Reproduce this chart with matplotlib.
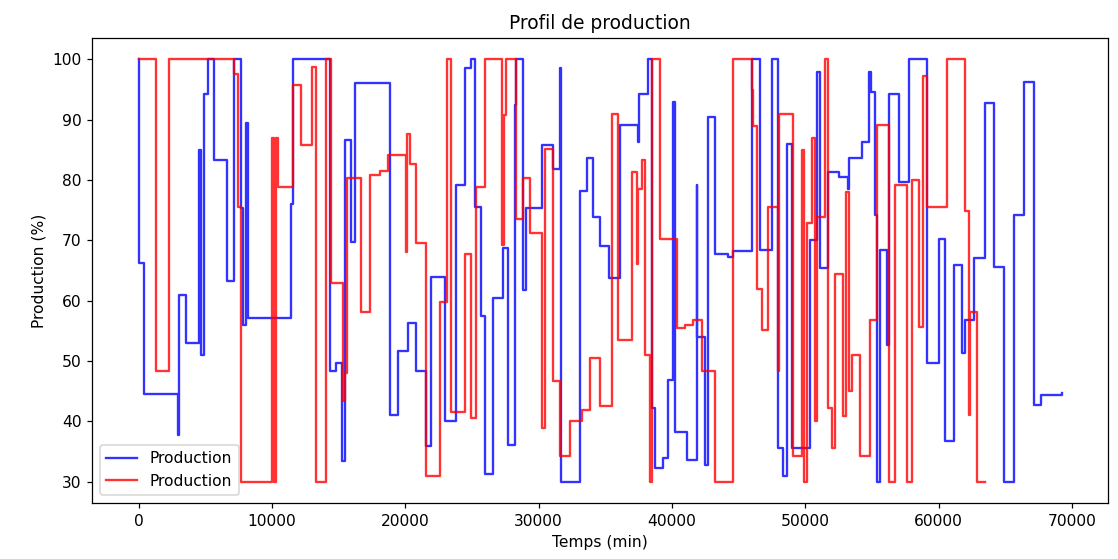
import matplotlib.pyplot as plt

# profil 1 (bleu) : instants de changement (min) et niveau de production (%)
t_prod1 = [0, 30, 375, 2930, 3020, 3560, 4560, 4670, 4930, 5180,
           5690, 6640, 7130, 7690, 7830, 8070, 8200, 11430, 11570, 14320,
           14820, 15250, 15450, 15900, 16200, 18830, 19450, 20200, 20830, 21580,
           21960, 22960, 23840, 24460, 24960, 25210, 25710, 25960, 26590, 27340,
           27710, 28220, 28340, 28840, 29090, 30220, 31090, 31590, 31710, 33100,
           33600, 34100, 34600, 35270, 36100, 37480, 37550, 38230, 38480, 38730,
           39350, 39730, 40100, 40230, 41110, 41860, 41920, 42480, 42730, 43240,
           44240, 44610, 45990, 46610, 47490, 47990, 48360, 48620, 48990, 50370,
           50870, 51120, 51740, 52500, 53200, 53300, 54250, 54750, 54950, 55250,
           55380, 55630, 56130, 56250, 57000, 57760, 59140, 60010, 60510, 61130,
           61760, 61960, 62630, 63510, 64140, 64890, 65640, 66390, 67140, 67650,
           69270]
prod1 = [100, 66.2, 44.6, 37.8, 61, 53, 84.9, 51, 94.3, 100,
         83.3, 63.3, 100, 75.3, 56, 89.4, 57.2, 76, 100, 48.3,
         49.6, 33.4, 86.6, 69.8, 96.1, 41.1, 51.6, 56.3, 48.4, 35.9,
         64, 40, 79.2, 98.5, 100, 75.6, 57.4, 31.2, 60.4, 68.7,
         36.1, 92.4, 100, 61.8, 75.3, 85.8, 81.9, 98.5, 30, 78.1,
         83.6, 73.9, 69, 63.7, 89.1, 86.3, 94.3, 100, 42.2, 32.3,
         33.9, 46.9, 92.9, 38.3, 33.6, 79.2, 54, 32.8, 90.5, 67.8,
         67.3, 68.3, 100, 68.4, 100, 35.6, 30.9, 86, 35.6, 70.1,
         97.9, 65.4, 81.4, 80.5, 78.5, 83.6, 86.3, 97.9, 94.6, 74.2,
         30, 68.4, 52.7, 94.3, 79.7, 100, 49.6, 70.3, 36.7, 65.9,
         51.3, 56.8, 67, 92.7, 65.6, 30, 74.2, 96.2, 42.7, 44.4,
         44.7]

# profil 2 (rouge)
t_prod2 = [0, 1310, 2310, 7190, 7440, 7690, 10040, 10190, 10300, 10440,
           11570, 12200, 13000, 13320, 14070, 14400, 15320, 15450, 15650, 16700,
           17330, 18080, 18700, 20080, 20140, 20330, 20830, 21580, 22580, 23160,
           23460, 24460, 24960, 25270, 25960, 27220, 27410, 27520, 28340, 28840,
           29340, 30220, 30470, 31090, 31590, 32350, 33220, 33850, 34600, 35480,
           35970, 36980, 37350, 37480, 37730, 37980, 38350, 38480, 39100, 40360,
           40980, 41610, 42240, 43240, 44610, 45990, 46090, 46370, 46740, 47240,
           47990, 48040, 49120, 49750, 49920, 50120, 50500, 50750, 50870, 51500,
           51720, 52000, 52250, 52870, 53080, 53300, 53500, 54120, 54870, 55380,
           56250, 56750, 57630, 58010, 58510, 58800, 59140, 60640, 62010, 62260,
           62380, 62890, 63510]
prod2 = [100, 48.3, 100, 97.6, 75.6, 30, 86.9, 30, 86.9, 78.9,
         95.7, 85.8, 98.7, 30, 100, 62.9, 43.3, 48, 80.3, 58.2,
         80.8, 81.5, 84.1, 68.1, 87.7, 82.7, 69.5, 30.9, 59.8, 100,
         41.6, 67.8, 40.5, 78.9, 100, 69.2, 90.7, 100, 73.6, 80.3,
         71.2, 38.9, 85.2, 46.6, 34.2, 40, 41.9, 50.5, 42.5, 91,
         53.5, 81.4, 66, 78.5, 83.3, 51, 30, 100, 70.3, 55.4,
         56, 56.8, 48.3, 30, 100, 95, 89, 62, 55.2, 75.6,
         48.3, 91, 34.2, 84.9, 30, 72.9, 86.9, 40, 73.9, 100,
         42.2, 35.6, 64.5, 40.8, 78, 45, 51, 34.2, 56.8, 89.1,
         30, 79.2, 30, 80, 55.7, 97.3, 75.6, 100, 74.8, 41,
         58.2, 30, 30]

fig, ax = plt.subplots(figsize=(10, 5), dpi=111.8)
fig.subplots_adjust(left=0.0827, right=0.9913, top=0.9315, bottom=0.1007)

ax.step(t_prod1, prod1, where='post', color='blue', alpha=0.8, lw=1.5, label='Production')
ax.step(t_prod2, prod2, where='post', color='red', alpha=0.8, lw=1.5, label='Production')

ax.set_title('Profil de production')
ax.set_xlabel('Temps (min)')
ax.set_ylabel('Production (%)')
ax.legend(loc='lower left')

plt.savefig('out.png')
